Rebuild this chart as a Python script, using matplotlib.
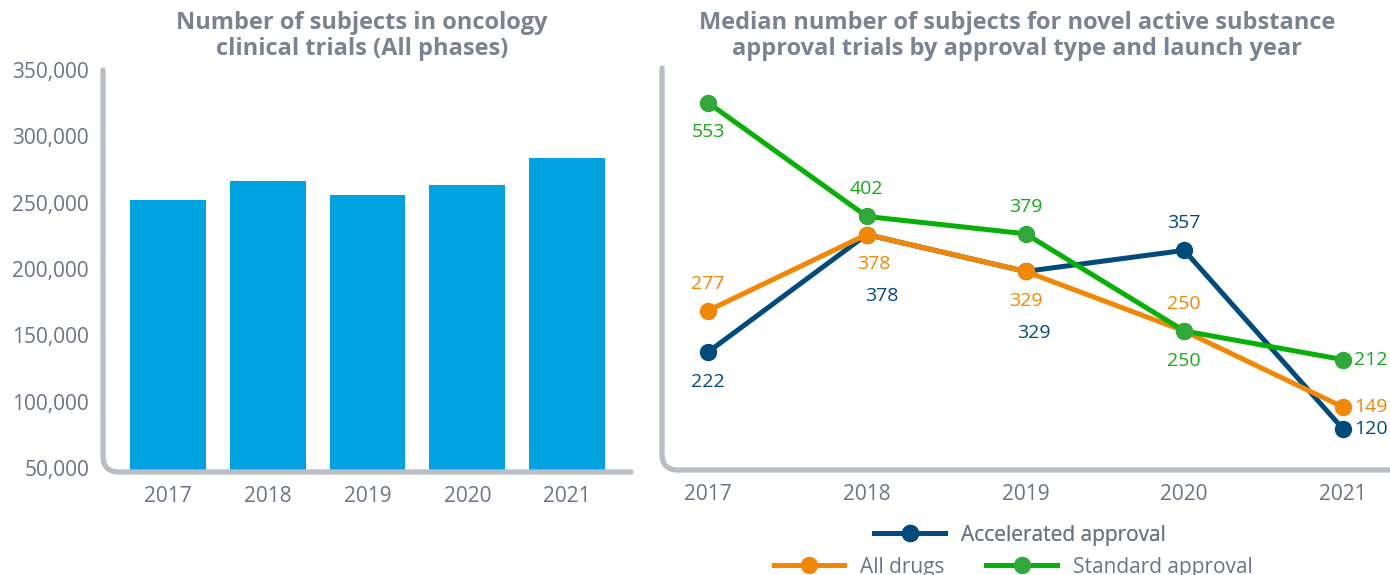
import matplotlib
matplotlib.use("Agg")
import matplotlib.pyplot as plt
from matplotlib.path import Path
from matplotlib.patches import PathPatch
from matplotlib.ticker import FuncFormatter

plt.rcParams['font.family'] = ['Open Sans', 'DejaVu Sans']

# ---- data ----
years = ["2017", "2018", "2019", "2020", "2021"]
subjects_total = [252000, 266000, 255500, 263000, 284000]
bar_yticks = [50000, 100000, 150000, 200000, 250000, 300000, 350000]

accelerated = [222, 378, 329, 357, 120]
all_drugs = [277, 378, 329, 250, 149]
standard = [553, 402, 379, 250, 212]

# label placement per point: 'a' above, 'b' below, 'r' right, 'bb' far below
acc_pos = ['b', 'bb', 'bb', 'a', 'r']
all_pos = ['a', 'b', 'b', 'a', 'r']
std_pos = ['b', 'a', 'a', 'b', 'r']

# ---- style ----
W, H = 1390, 575
DPI = 100
C_BAR = '#00a3e0'
C_ACC = '#004b7c'
C_ALL = '#f28705'
C_STD_LINE = '#06b006'
C_STD_MK = '#33a83a'
C_STD_TXT = '#18a818'
C_TITLE = '#7b8391'
C_TICK = '#6b7482'
C_SPINE = '#b9bec5'
FS = 15
FS_LAB = 14
FS_TITLE = 17

fig = plt.figure(figsize=(W / DPI, H / DPI), dpi=DPI)


def px_axes(l, r, t, b):
    return fig.add_axes([l / W, 1 - b / H, (r - l) / W, (b - t) / H])


def rounded_spine(ax, l, r, t, b, radius=16):
    rx = radius / (r - l)
    ry = radius / (b - t)
    verts = [(0, 1), (0, ry), (0, 0), (rx, 0), (1, 0)]
    codes = [Path.MOVETO, Path.LINETO, Path.CURVE3, Path.CURVE3, Path.LINETO]
    patch = PathPatch(Path(verts, codes), transform=ax.transAxes, fill=False,
                      edgecolor=C_SPINE, linewidth=3.8, capstyle='round',
                      joinstyle='round', clip_on=False, zorder=5)
    ax.add_patch(patch)
    for s in ax.spines.values():
        s.set_visible(False)


# ---- left: bar chart ----
L1, R1, T1, B1 = 103, 631, 70, 472
ax1 = px_axes(L1, R1, T1, B1)
xs = list(range(len(years)))
ax1.bar(xs, subjects_total, width=0.76, color=C_BAR, zorder=2)
ax1.set_xlim(-0.65, 4.64)
ax1.set_ylim(47000, 350000)
ax1.set_yticks(bar_yticks)
ax1.yaxis.set_major_formatter(FuncFormatter(lambda v, p: f"{int(v):,}"))
ax1.set_xticks(xs)
ax1.set_xticklabels(years)
ax1.tick_params(axis='both', length=0, labelsize=FS, colors=C_TICK)
ax1.tick_params(axis='y', pad=10)
ax1.tick_params(axis='x', pad=10)
rounded_spine(ax1, L1, R1, T1, B1)
fig.text(362 / W, 1 - 11 / H,
         "Number of subjects in oncology\nclinical trials (All phases)",
         ha='center', va='top', fontsize=FS_TITLE, fontweight='bold',
         color=C_TITLE, linespacing=1.13)

# ---- right: line chart ----
L2, R2, T2, B2 = 662, 1392, 68, 470
ax2 = px_axes(L2, R2, T2, B2)
step = 158.75
x0 = -(708 - L2) / step
x1 = 4 + (R2 - 1343) / step
ax2.set_xlim(x0, x1)
ax2.set_ylim(65.5, 599)
ax2.set_yticks([])
ax2.set_xticks(xs)
ax2.set_xticklabels(years)
ax2.tick_params(axis='x', length=0, labelsize=FS, colors=C_TICK, pad=10)
rounded_spine(ax2, L2, R2, T2, B2)
fig.text(1017 / W, 1 - 11 / H,
         "Median number of subjects for novel active substance\n"
         "approval trials by approval type and launch year",
         ha='center', va='top', fontsize=FS_TITLE, fontweight='bold',
         color=C_TITLE, linespacing=1.13)

lw, ms = 3.6, 11.5
l_acc, = ax2.plot(xs, accelerated, color=C_ACC, lw=lw, marker='o', ms=ms,
                  mfc=C_ACC, mec=C_ACC, zorder=3, label='Accelerated approval')
l_all, = ax2.plot(xs, all_drugs, color=C_ALL, lw=lw, marker='o', ms=ms,
                  mfc=C_ALL, mec=C_ALL, zorder=4, label='All drugs')
l_std, = ax2.plot(xs, standard, color=C_STD_LINE, lw=lw, marker='o', ms=ms,
                  mfc=C_STD_MK, mec=C_STD_MK, zorder=4.5, label='Standard approval')

offsets = {'a': (0, 13, 'center', 'bottom'),
           'b': (0, -15, 'center', 'top'),
           'bb': (6, -38, 'center', 'top'),
           'r': (8, 0, 'left', 'center')}


def label_series(vals, pos, color):
    for i, (v, p) in enumerate(zip(vals, pos)):
        dx, dy, ha, va = offsets[p]
        if i == 1 and p in ('b', 'bb'):
            dx += 5
        ax2.annotate(str(v), (xs[i], v), xytext=(dx, dy), textcoords='offset points',
                     ha=ha, va=va, fontsize=FS_LAB, color=color, zorder=6,
                     annotation_clip=False)


label_series(accelerated, acc_pos, C_ACC)
label_series(all_drugs, all_pos, C_ALL)
label_series(standard, std_pos, C_STD_TXT)

leg_kw = dict(frameon=False, fontsize=FS, handlelength=3.4, handletextpad=0.75,
              labelcolor=C_TICK, borderaxespad=0, borderpad=0)
leg1 = fig.legend(handles=[l_acc], loc='center',
                  bbox_to_anchor=(1020 / W, 1 - 535 / H), **leg_kw)
fig.add_artist(leg1)
leg2 = fig.legend(handles=[l_all, l_std], loc='center', ncol=2, columnspacing=2.0,
                  bbox_to_anchor=(1013 / W, 1 - 567 / H), **leg_kw)

fig.savefig("out.png", dpi=DPI)
